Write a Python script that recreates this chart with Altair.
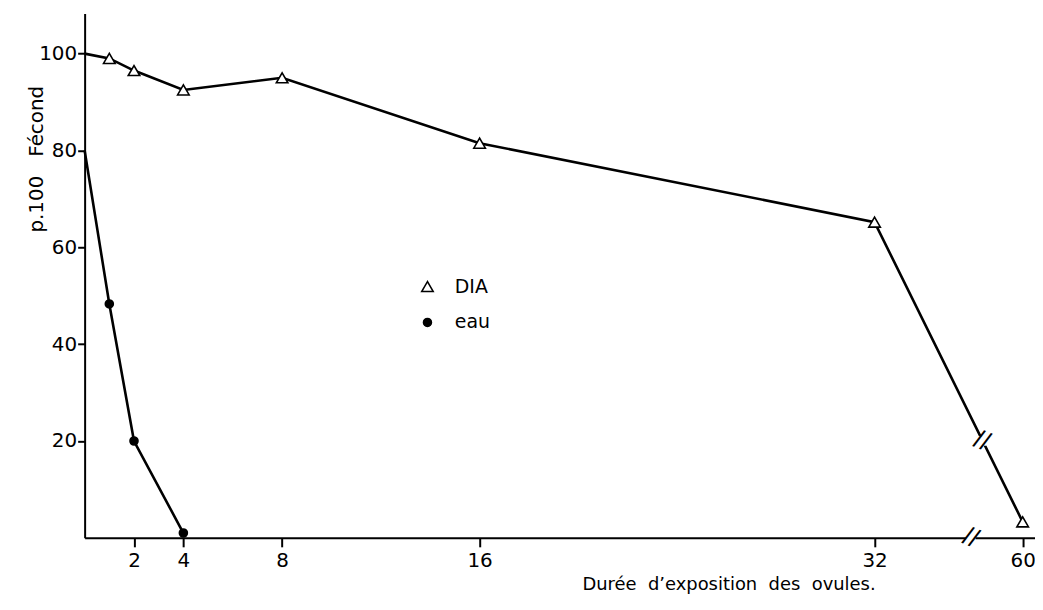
import altair as alt
import pandas as pd

# ---- data ----
dia_t = [0, 1, 2, 4, 8, 16, 32, 60]
dia_pct = [100, 99, 96.5, 92.5, 95, 81.5, 65.2, 3.3]
eau_t = [0, 1, 2, 4]
eau_pct = [80, 48.3, 20, 1]

x_ticks = [2, 4, 8, 16, 32, 60]
y_ticks = [20, 40, 60, 80, 100]

# broken axis: 60 is drawn at position 38 of the linear scale
BREAK_VALUE = 60
BREAK_POS = 38
axis_break_x = [35.9]
axis_break_y = [0]
line_break_x = [36.35]
line_break_y = [20.0]


def pos(v):
    return BREAK_POS if v == BREAK_VALUE else v


rows = []
for t, p in zip(dia_t, dia_pct):
    rows.append({"serie": "DIA", "t": t, "x": pos(t), "pct": p})
for t, p in zip(eau_t, eau_pct):
    rows.append({"serie": "eau", "t": t, "x": pos(t), "pct": p})
df = pd.DataFrame(rows)

breaks = pd.DataFrame({
    "x": axis_break_x + line_break_x,
    "y": axis_break_y + line_break_y,
})

FONT = "DejaVu Sans"

xscale = alt.Scale(domain=[0, 38.5], nice=False, zero=False)
yscale = alt.Scale(domain=[0, 108.3], nice=False)

x_axis = alt.Axis(
    values=[pos(v) for v in x_ticks],
    labelExpr="datum.value == %d ? '%d' : datum.label" % (BREAK_POS, BREAK_VALUE),
    title="Durée\u00a0 d’exposition\u00a0 des\u00a0 ovules.",
    titleX=647, titleY=47, titleAnchor="middle", titleAlign="center",
    titleBaseline="middle",
    grid=False, tickSize=9, tickWidth=2, labelPadding=4,
    domainWidth=2, domainColor="black", tickColor="black",
    labelFontSize=20, titleFontSize=18, titleFontWeight="normal",
    labelFont=FONT, titleFont=FONT, labelColor="black", titleColor="black",
)
y_axis = alt.Axis(
    values=y_ticks,
    title="p.100\u00a0\u00a0 Fécond",
    titleX=-48, titleY=146, titleAngle=-90, titleAlign="center",
    titleBaseline="middle",
    grid=False, tickSize=7, tickWidth=2, labelPadding=1,
    domainWidth=2, domainColor="black", tickColor="black",
    labelFontSize=20, titleFontSize=20, titleFontWeight="normal",
    labelFont=FONT, titleFont=FONT, labelColor="black", titleColor="black",
)

base = alt.Chart(df)

lines = base.mark_line(color="black", strokeWidth=2.6).encode(
    x=alt.X("x:Q", scale=xscale, axis=x_axis),
    y=alt.Y("pct:Q", scale=yscale, axis=y_axis),
    detail="serie:N",
)

legend = alt.Legend(
    title=None, orient="none", legendX=335, legendY=265,
    labelFontSize=19, labelFont=FONT, labelColor="black",
    labelOffset=18, rowPadding=16, padding=0,
)

points = base.transform_filter("datum.t > 0").mark_point(
    filled=False, stroke="black", strokeWidth=1.6, opacity=1
).encode(
    x="x:Q",
    y="pct:Q",
    shape=alt.Shape("serie:N", scale=alt.Scale(domain=["DIA", "eau"], range=["triangle-up", "circle"]), legend=legend),
    fill=alt.Fill("serie:N", scale=alt.Scale(domain=["DIA", "eau"], range=["white", "black"]), legend=legend),
    size=alt.Size("serie:N", scale=alt.Scale(domain=["DIA", "eau"], range=[135, 65]), legend=legend),
)

gaps = alt.Chart(breaks).mark_point(
    shape="square", filled=True, color="white", size=90, opacity=1
).encode(x="x:Q", y="y:Q")

slashes = alt.Chart(breaks).mark_text(
    text="//", fontSize=26, font="Liberation Sans", color="black", angle=22
).encode(x="x:Q", y="y:Q")

chart = alt.layer(lines, gaps, slashes, points).properties(
    width=955, height=527,
    autosize=alt.AutoSizeParams(type="none"),
    padding={"left": 77, "top": 4, "right": 0, "bottom": 60},
).configure(background="white").configure_view(stroke=None)

chart.save("out.html", embed_options={"renderer": "svg", "actions": False})
